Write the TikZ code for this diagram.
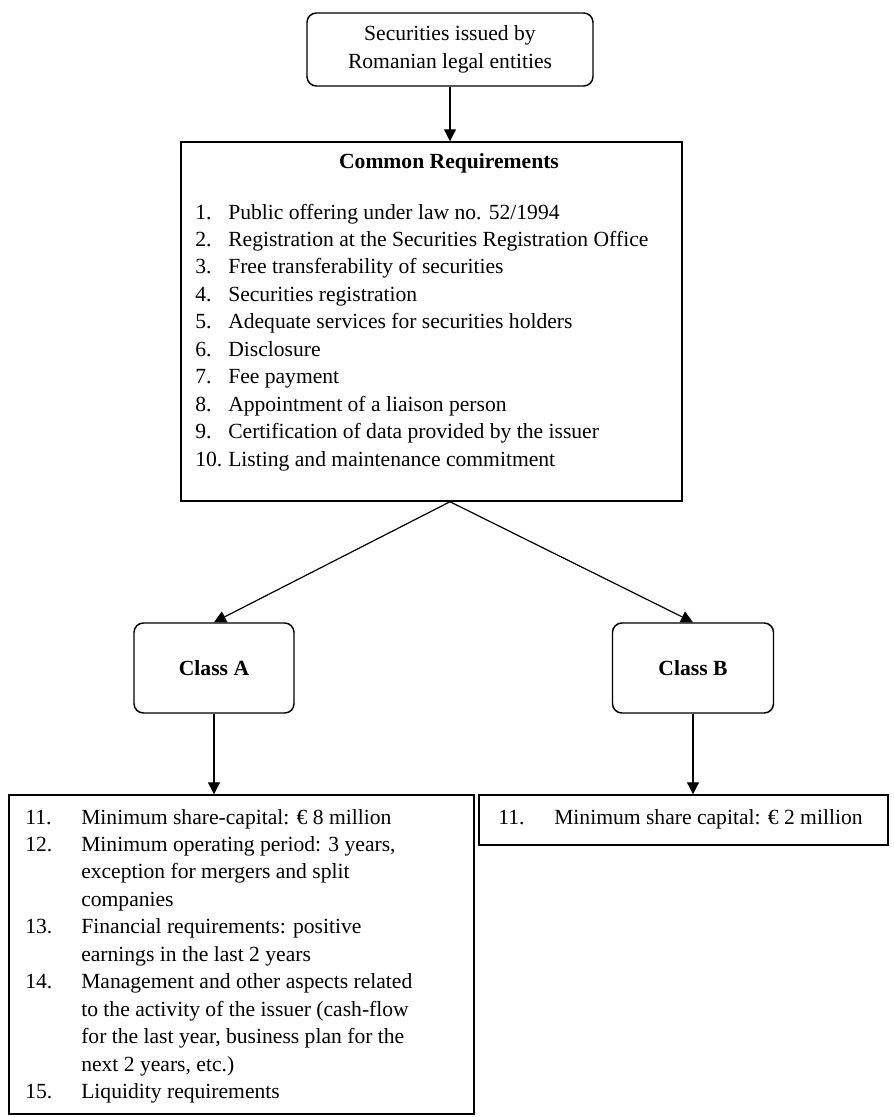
\documentclass[tikz,border=0pt]{standalone}
\usepackage{fontspec}
\setmainfont{Liberation Serif}
\usetikzlibrary{arrows.meta}

\tikzset{
  every node/.style={font=\fontsize{16.2}{20.6}\selectfont},
  roundbox/.style={draw, line width=1.1pt, rounded corners=7pt, inner sep=0pt, align=center},
  listbox/.style={draw, line width=1.1pt, inner sep=0pt},
  txt/.style={inner sep=0pt, align=left, anchor=base west},
  arr/.style={line width=0.9pt, -{Triangle[length=9pt,width=9pt]}}
}
\newcommand{\crnum}[2]{\makebox[24.75pt][l]{#1}#2}
\newcommand{\clnum}[2]{\makebox[42pt][l]{#1}#2}

\begin{document}
\begin{tikzpicture}[x=0.75pt,y=-0.75pt]
 \useasboundingbox (0,0) rectangle (893,1117);
 % Issuer
 \node[roundbox, minimum width=214.5pt, minimum height=54.75pt] (issuer) at (450,49.5)
   {Securities issued by\\Romanian legal entities};
 % Common requirements (base = last line)
 \node[listbox, minimum width=375.75pt, minimum height=269.25pt] (common) at (431.5,321.5) {};
 \node[inner sep=0pt] (crtitle) at (449,163) {\bfseries Common Requirements};
 \node[txt] (crlist) at (195,466.2) {%
   \crnum{1.}{Public offering under law no. 52/1994}\\
   \crnum{2.}{Registration at the Securities Registration Office}\\
   \crnum{3.}{Free transferability of securities}\\
   \crnum{4.}{Securities registration}\\
   \crnum{5.}{Adequate services for securities holders}\\
   \crnum{6.}{Disclosure}\\
   \crnum{7.}{Fee payment}\\
   \crnum{8.}{Appointment of a liaison person}\\
   \crnum{9.}{Certification of data provided by the issuer}\\
   \crnum{10.}{Listing and maintenance commitment}};
 \draw[arr] (issuer.south) -- (issuer.south |- common.north);
 % Classes
 \node[roundbox, minimum width=120pt, minimum height=67.5pt] (classA) at (214,668) {\bfseries Class A};
 \node[roundbox, minimum width=120.75pt, minimum height=67.5pt] (classB) at (693,668) {\bfseries Class B};
 \coordinate (split) at (issuer.south |- common.south);
 \draw[arr] (split) -- (classA.north);
 \draw[arr] (split) -- (classB.north);
 % Class A requirements
 \node[listbox, minimum width=348.75pt, minimum height=239.25pt] (listA) at (241.5,954.5) {};
 \node[txt] (listAtxt) at (25,1098.7) {%
   \clnum{11.}{Minimum share-capital: € 8 million}\\
   \clnum{12.}{Minimum operating period: 3 years,}\\
   \clnum{}{exception for mergers and split}\\
   \clnum{}{companies}\\
   \clnum{13.}{Financial requirements: positive}\\
   \clnum{}{earnings in the last 2 years}\\
   \clnum{14.}{Management and other aspects related}\\
   \clnum{}{to the activity of the issuer (cash-flow}\\
   \clnum{}{for the last year, business plan for the}\\
   \clnum{}{next 2 years, etc.)}\\
   \clnum{15.}{Liquidity requirements}};
 \draw[arr] (classA.south) -- (classA.south |- listA.north);
 % Class B requirements
 \node[listbox, minimum width=306.75pt, minimum height=37.5pt] (listB) at (683.5,820) {};
 \node[txt] (listBtxt) at (498,824) {\clnum{11.}{Minimum share capital: € 2 million}};
 \draw[arr] (classB.south) -- (classB.south |- listB.north);
\end{tikzpicture}
\end{document}
